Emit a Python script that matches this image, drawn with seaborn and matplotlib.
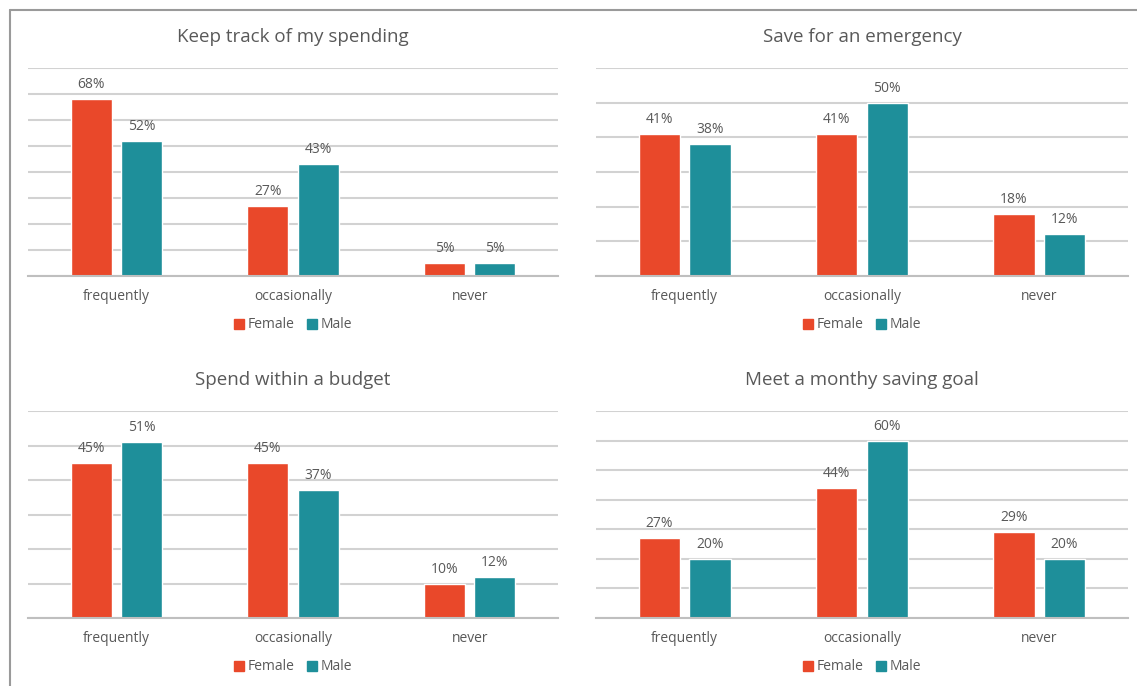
import matplotlib
matplotlib.use("Agg")
import matplotlib.pyplot as plt
import seaborn as sns
import pandas as pd
from matplotlib.lines import Line2D

categories = ["frequently", "occasionally", "never"]
genders = ["Female", "Male"]

titles = ["Keep track of my spending", "Save for an emergency",
          "Spend within a budget", "Meet a monthy saving goal"]

track_female = [68, 27, 5]
track_male = [52, 43, 5]
emerg_female = [41, 41, 18]
emerg_male = [38, 50, 12]
budget_female = [45, 45, 10]
budget_male = [51, 37, 12]
goal_female = [27, 44, 29]
goal_male = [20, 60, 20]

ymax = [80, 60, 60, 70]

panels = [(track_female, track_male), (emerg_female, emerg_male),
          (budget_female, budget_male), (goal_female, goal_male)]

colors = {"Female": "#E9482A", "Male": "#1E8F9A"}
text_color = "#595959"
grid_color = "#D2D2D2"
base_color = "#BFBFBF"

sns.set_theme(style="white")
plt.rcParams["font.family"] = ["Open Sans", "DejaVu Sans"]

W, H = 1137, 686
fig = plt.figure(figsize=(W / 100, H / 100), dpi=100)

# axes boxes in pixels: (left, top, right, bottom)
boxes = [(28, 68, 558, 276), (596, 68, 1128, 276),
         (28, 411, 558, 618), (596, 411, 1128, 618)]

for i, ((fem, mal), title, ym, box) in enumerate(zip(panels, titles, ymax, boxes)):
    l, t, r, b = box
    ax = fig.add_axes([l / W, 1 - b / H, (r - l) / W, (b - t) / H])
    df = pd.DataFrame({
        "category": categories * 2,
        "gender": ["Female"] * 3 + ["Male"] * 3,
        "value": list(fem) + list(mal),
    })
    sns.barplot(data=df, x="category", y="value", hue="gender", order=categories,
                hue_order=genders, palette=colors, width=0.57, gap=0.18,
                saturation=1, ax=ax, legend=False)
    for c in ax.containers:
        ax.bar_label(c, labels=[f"{v:.0f}%" for v in c.datavalues], padding=5,
                     fontsize=10, color=text_color)
    ax.set_xlim(-0.5, 2.5)
    ax.set_ylim(0, ym)
    ax.set_yticks(range(0, ym + 1, 10))
    ax.set_yticklabels([])
    ax.tick_params(axis="y", length=0)
    ax.tick_params(axis="x", length=0, pad=9, labelsize=10, labelcolor=text_color)
    ax.grid(axis="y", color=grid_color, linewidth=1.5)
    ax.set_axisbelow(True)
    for s in ["left", "right", "top"]:
        ax.spines[s].set_visible(False)
    ax.spines["bottom"].set_color(base_color)
    ax.spines["bottom"].set_linewidth(1.5)
    ax.set_xlabel("")
    ax.set_ylabel("")
    h = b - t
    ax.text(0.5, 1 + 31 / h, title, transform=ax.transAxes, ha="center", va="center",
            fontsize=13.5, color=text_color)
    handles = [plt.Rectangle((0, 0), 1, 1, color=colors[g]) for g in genders]
    leg = ax.legend(handles, genders, loc="center", bbox_to_anchor=(0.5, -49 / h),
                    ncol=2, frameon=False, handlelength=0.75, handleheight=0.75,
                    handletextpad=0.25, columnspacing=0.9, fontsize=10)
    for txt in leg.get_texts():
        txt.set_color(text_color)

# outer frame (left and top)
fig.add_artist(Line2D([9.5 / W, 9.5 / W], [0, 1 - 9.5 / H], transform=fig.transFigure,
                      color="#9A9A9A", linewidth=1.5))
fig.add_artist(Line2D([9.5 / W, 1], [1 - 9.5 / H, 1 - 9.5 / H], transform=fig.transFigure,
                      color="#9A9A9A", linewidth=1.5))

fig.savefig("out.png", dpi=100, facecolor="white")
